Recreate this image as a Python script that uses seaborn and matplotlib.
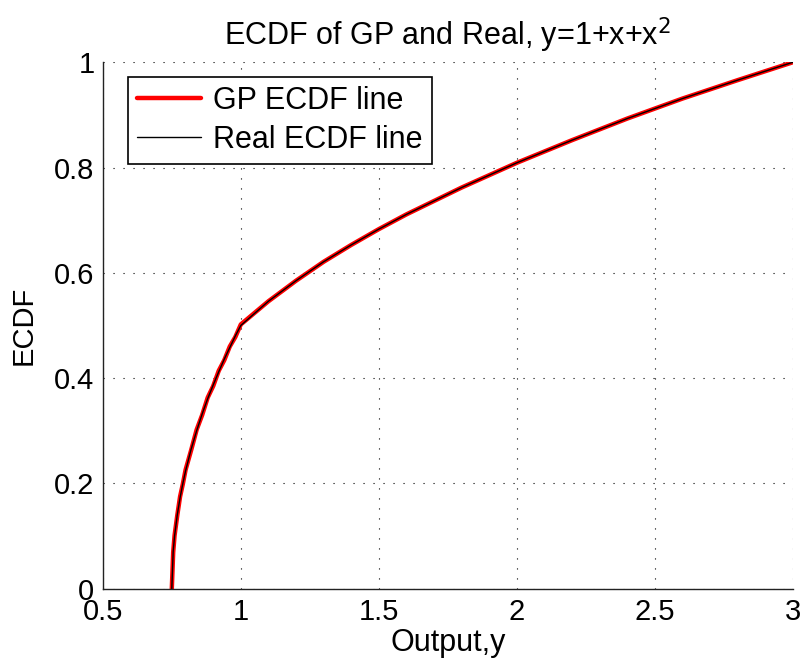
import matplotlib
matplotlib.use('Agg')
import matplotlib.pyplot as plt
import numpy as np
import pandas as pd
import seaborn as sns

# values
output_y = [0.75, 0.755, 0.76, 0.77, 0.78, 0.79, 0.80, 0.82, 0.84, 0.86, 0.88,
            0.90, 0.92, 0.94, 0.96, 0.98, 1.00, 1.10, 1.20, 1.30, 1.40, 1.50,
            1.60, 1.80, 2.00, 2.20, 2.40, 2.60, 2.80, 3.00]
real_ecdf = [0.0, 0.071, 0.100, 0.141, 0.173, 0.200, 0.224, 0.265, 0.300, 0.332,
             0.361, 0.387, 0.412, 0.436, 0.458, 0.480, 0.500, 0.546, 0.585, 0.621,
             0.653, 0.683, 0.711, 0.762, 0.809, 0.852, 0.893, 0.931, 0.966, 1.0]
gp_ecdf = [0.0, 0.069, 0.101, 0.140, 0.175, 0.199, 0.226, 0.263, 0.302, 0.330,
           0.363, 0.385, 0.414, 0.434, 0.460, 0.478, 0.502, 0.546, 0.585, 0.621,
           0.653, 0.683, 0.711, 0.762, 0.809, 0.852, 0.893, 0.931, 0.966, 1.0]

df = pd.DataFrame({'y': output_y, 'gp': gp_ecdf, 'real': real_ecdf})

sns.set_style('white')
plt.rcParams['font.family'] = ['Liberation Sans', 'DejaVu Sans']
plt.rcParams['text.color'] = 'black'
plt.rcParams['axes.labelcolor'] = 'black'

fig = plt.figure(figsize=(8.03, 6.69), dpi=100)
ax = fig.add_axes([0.128, 0.12, 0.8595, 0.787])

sns.lineplot(data=df, x='y', y='gp', color='red', linewidth=3.2,
             label='GP ECDF line', ax=ax, sort=False)
sns.lineplot(data=df, x='y', y='real', color='black', linewidth=1.0,
             label='Real ECDF line', ax=ax, sort=False)

ax.set_xlim(0.5, 3)
ax.set_ylim(0, 1)
ax.set_xticks(np.arange(0.5, 3.01, 0.5))
ax.set_xticklabels(['0.5', '1', '1.5', '2', '2.5', '3'])
ax.set_yticks(np.arange(0, 1.01, 0.2))
ax.set_yticklabels(['0', '0.2', '0.4', '0.6', '0.8', '1'])
ax.tick_params(axis='both', direction='in', length=5, width=0.8,
               labelsize=21, colors='black')
ax.tick_params(axis='x', pad=7)
ax.tick_params(axis='y', pad=6)
ax.grid(True, linestyle=(0, (1, 8)), color='black', linewidth=0.8)
for side in ['top', 'right']:
    ax.spines[side].set_visible(False)
for side in ['left', 'bottom']:
    ax.spines[side].set_color('#222222')
    ax.spines[side].set_linewidth(1.0)

ax.set_xlabel('Output,y', fontsize=22, labelpad=1, color='black')
ax.set_ylabel('ECDF', fontsize=21, labelpad=12, color='black')
ax.set_title('ECDF of GP and Real, y=1+x+x$^2$', fontsize=22, pad=12, color='black')

leg = ax.legend(loc='upper left', bbox_to_anchor=(0.036, 0.972), fontsize=22,
                frameon=True, fancybox=False, framealpha=1.0, handlelength=2.1,
                borderpad=0.3, labelspacing=0.28, handletextpad=0.4,
                borderaxespad=0.0)
leg.get_frame().set_edgecolor('black')
leg.get_frame().set_linewidth(1.2)
for t in leg.get_texts():
    t.set_color('black')

fig.savefig('out.png', dpi=100)
